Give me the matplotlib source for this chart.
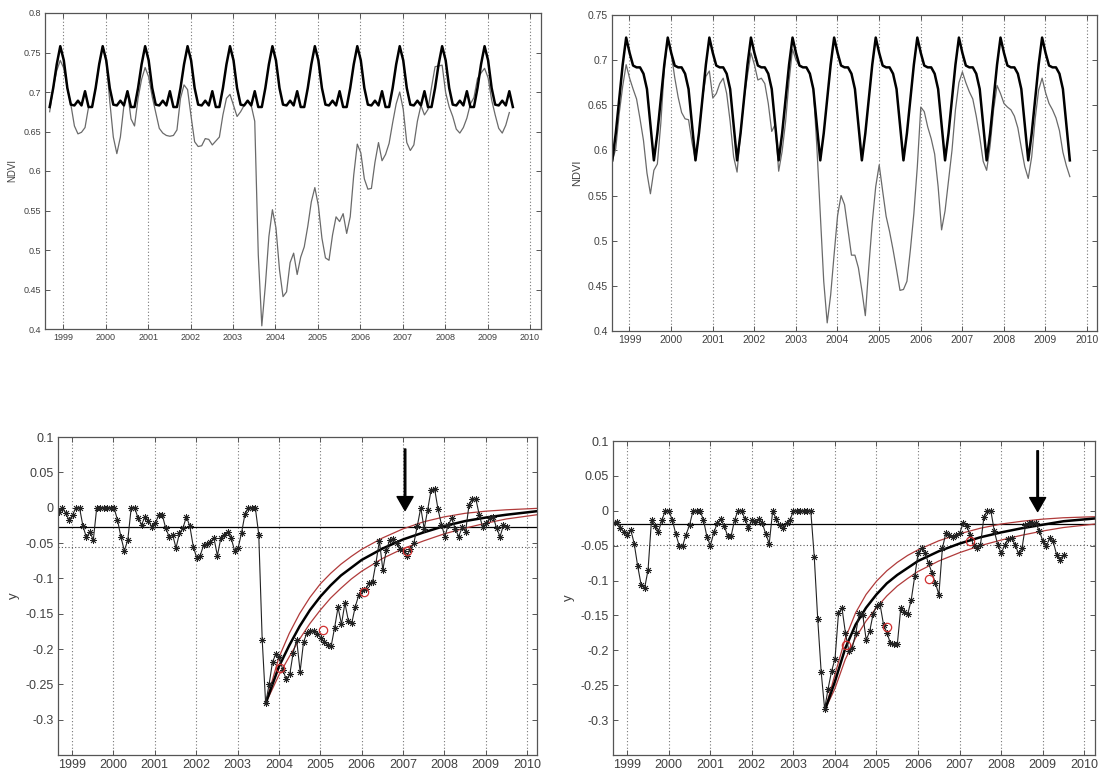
import numpy as np
import matplotlib
matplotlib.use("Agg")
import matplotlib.pyplot as plt

plt.rcParams['font.family'] = ['Liberation Sans', 'DejaVu Sans']

# ---------------- data ----------------
years = list(range(1999, 2011))

# monthly time axes (decimal years)
t_a = 1998.68 + np.arange(131) / 12.0       # left column (top + bottom)
t_ref_a = 1998.68 + np.arange(132) / 12.0   # reference curve runs one month longer
t_b = 1998.587 + np.arange(133) / 12.0      # top right
t_d = 1998.67 + np.arange(131) / 12.0       # bottom right

# reference NDVI seasonal cycle (one year, starting in January), repeated every year
ref_a_cycle = [0.740, 0.705, 0.684, 0.683, 0.689, 0.683, 0.701, 0.681, 0.681, 0.705, 0.735, 0.758]
ref_b_cycle = [0.708, 0.694, 0.692, 0.692, 0.685, 0.668, 0.629, 0.589, 0.619, 0.657, 0.695, 0.725]

ndvi_a = [0.675, 0.705, 0.727, 0.740,
          0.730, 0.705, 0.684, 0.657, 0.647, 0.649, 0.655, 0.681, 0.681, 0.705, 0.735, 0.758,
          0.740, 0.688, 0.643, 0.622, 0.643, 0.683, 0.701, 0.666, 0.657, 0.692, 0.716, 0.731,
          0.719, 0.694, 0.674, 0.654, 0.648, 0.645, 0.644, 0.645, 0.652, 0.692, 0.709, 0.703,
          0.669, 0.637, 0.631, 0.632, 0.641, 0.640, 0.633, 0.638, 0.643, 0.671, 0.692, 0.697,
          0.683, 0.669, 0.675, 0.683, 0.689, 0.683, 0.663, 0.494, 0.404, 0.455, 0.517, 0.551,
          0.528, 0.475, 0.441, 0.447, 0.484, 0.496, 0.469, 0.491, 0.504, 0.530, 0.561, 0.579,
          0.556, 0.515, 0.490, 0.487, 0.519, 0.542, 0.536, 0.546, 0.521, 0.542, 0.595, 0.634,
          0.623, 0.590, 0.577, 0.578, 0.611, 0.636, 0.613, 0.621, 0.635, 0.661, 0.685, 0.700,
          0.678, 0.636, 0.626, 0.633, 0.663, 0.683, 0.671, 0.678, 0.706, 0.732, 0.733, 0.734,
          0.699, 0.681, 0.669, 0.653, 0.648, 0.655, 0.667, 0.685, 0.693, 0.717, 0.724, 0.730,
          0.718, 0.690, 0.671, 0.654, 0.648, 0.658, 0.674]

ndvi_b = [0.588, 0.602, 0.641, 0.671, 0.695,
          0.680, 0.668, 0.657, 0.635, 0.611, 0.575, 0.552, 0.578, 0.585, 0.630, 0.690, 0.725,
          0.708, 0.681, 0.659, 0.642, 0.635, 0.634, 0.609, 0.589, 0.619, 0.657, 0.682, 0.688,
          0.658, 0.663, 0.674, 0.680, 0.663, 0.632, 0.593, 0.576, 0.619, 0.657, 0.683, 0.708,
          0.695, 0.678, 0.680, 0.674, 0.652, 0.621, 0.629, 0.577, 0.599, 0.632, 0.677, 0.712,
          0.700, 0.694, 0.692, 0.692, 0.685, 0.668, 0.605, 0.530, 0.455, 0.409, 0.440, 0.485,
          0.528, 0.550, 0.540, 0.512, 0.484, 0.484, 0.470, 0.445, 0.417, 0.471, 0.520, 0.560,
          0.584, 0.555, 0.527, 0.510, 0.490, 0.468, 0.445, 0.446, 0.455, 0.490, 0.530, 0.582,
          0.648, 0.643, 0.626, 0.613, 0.596, 0.560, 0.512, 0.533, 0.566, 0.600, 0.645, 0.675,
          0.687, 0.675, 0.665, 0.657, 0.638, 0.615, 0.588, 0.578, 0.605, 0.645, 0.672, 0.663,
          0.652, 0.648, 0.645, 0.638, 0.625, 0.603, 0.582, 0.569, 0.593, 0.635, 0.667, 0.680,
          0.664, 0.652, 0.645, 0.636, 0.622, 0.598, 0.583, 0.571]

y_c = [-0.006, 0.0, -0.008, -0.018,
       -0.010, 0.0, 0.0, -0.026, -0.042, -0.034, -0.046, 0.0, 0.0, 0.0, 0.0, 0.0,
       0.0, -0.017, -0.041, -0.061, -0.046, 0.0, 0.0, -0.015, -0.024, -0.013, -0.019, -0.027,
       -0.021, -0.011, -0.010, -0.029, -0.041, -0.038, -0.057, -0.036, -0.029, -0.013, -0.026, -0.055,
       -0.071, -0.068, -0.053, -0.051, -0.048, -0.043, -0.068, -0.043, -0.038, -0.034, -0.043, -0.061,
       -0.057, -0.036, -0.009, 0.0, 0.0, 0.0, -0.038, -0.187, -0.277, -0.250, -0.218, -0.207,
       -0.212, -0.230, -0.243, -0.236, -0.205, -0.187, -0.232, -0.190, -0.177, -0.175, -0.174, -0.179,
       -0.184, -0.190, -0.194, -0.196, -0.170, -0.141, -0.165, -0.135, -0.160, -0.163, -0.140, -0.124,
       -0.117, -0.115, -0.107, -0.105, -0.078, -0.047, -0.088, -0.060, -0.046, -0.044, -0.050, -0.058,
       -0.062, -0.069, -0.058, -0.050, -0.026, 0.000, -0.030, -0.003, 0.025, 0.027, -0.002, -0.024,
       -0.041, -0.024, -0.015, -0.030, -0.041, -0.028, -0.034, 0.004, 0.012, 0.012, -0.011, -0.028,
       -0.022, -0.015, -0.013, -0.029, -0.041, -0.025, -0.027]

y_d = [-0.017, -0.016, -0.024, -0.030,
       -0.035, -0.027, -0.047, -0.079, -0.106, -0.111, -0.085, -0.013, -0.022, -0.030, -0.013, 0.0,
       0.0, -0.013, -0.033, -0.050, -0.050, -0.034, -0.020, 0.0, 0.0, 0.0, -0.013, -0.037,
       -0.050, -0.031, -0.018, -0.012, -0.022, -0.036, -0.036, -0.013, 0.0, 0.0, -0.012, -0.025,
       -0.013, -0.016, -0.012, -0.018, -0.033, -0.047, 0.0, -0.012, -0.020, -0.025, -0.018, -0.013,
       0.0, 0.0, 0.0, 0.0, 0.0, 0.0, -0.066, -0.155, -0.231, -0.284, -0.255, -0.230,
       -0.212, -0.147, -0.139, -0.175, -0.201, -0.196, -0.175, -0.147, -0.149, -0.185, -0.173, -0.148,
       -0.136, -0.134, -0.163, -0.175, -0.190, -0.191, -0.191, -0.139, -0.145, -0.148, -0.128, -0.094,
       -0.061, -0.054, -0.061, -0.075, -0.089, -0.104, -0.120, -0.054, -0.032, -0.035, -0.037, -0.035,
       -0.032, -0.018, -0.022, -0.034, -0.049, -0.053, -0.049, -0.009, 0.0, 0.0, -0.029, -0.049,
       -0.061, -0.049, -0.041, -0.039, -0.049, -0.061, -0.054, -0.021, -0.017, -0.017, -0.018, -0.029,
       -0.043, -0.051, -0.039, -0.044, -0.063, -0.070, -0.063]

# recovery fits
fit_c_t = [2003.68, 2004.0, 2004.25, 2004.5, 2004.75, 2005.0, 2005.25, 2005.5, 2005.75,
           2006.0, 2006.5, 2007.0, 2007.5, 2008.0, 2008.5, 2009.0, 2009.5, 2010.24]
fit_c_mid = [-0.277, -0.225, -0.195, -0.168, -0.145, -0.126, -0.110, -0.096, -0.085,
             -0.074, -0.058, -0.045, -0.035, -0.026, -0.019, -0.014, -0.010, -0.005]
fit_c_hi = [-0.277, -0.212, -0.178, -0.150, -0.127, -0.108, -0.093, -0.080, -0.069,
            -0.059, -0.043, -0.030, -0.020, -0.013, -0.008, -0.005, -0.003, -0.001]
fit_c_lo = [-0.277, -0.237, -0.211, -0.186, -0.164, -0.145, -0.128, -0.114, -0.101,
            -0.090, -0.072, -0.058, -0.047, -0.037, -0.029, -0.022, -0.016, -0.010]

fit_d_t = [2003.77, 2004.0, 2004.25, 2004.5, 2004.75, 2005.0, 2005.25, 2005.5, 2005.75,
           2006.0, 2006.5, 2007.0, 2007.5, 2008.0, 2008.5, 2009.0, 2009.5, 2010.26]
fit_d_mid = [-0.284, -0.245, -0.197, -0.163, -0.139, -0.120, -0.104, -0.092, -0.082,
             -0.072, -0.058, -0.047, -0.038, -0.031, -0.025, -0.020, -0.015, -0.011]
fit_d_hi = [-0.284, -0.235, -0.183, -0.146, -0.120, -0.101, -0.086, -0.074, -0.064,
            -0.056, -0.043, -0.033, -0.025, -0.019, -0.015, -0.012, -0.010, -0.0085]
fit_d_lo = [-0.284, -0.255, -0.213, -0.182, -0.158, -0.139, -0.122, -0.108, -0.097,
            -0.087, -0.072, -0.060, -0.050, -0.042, -0.035, -0.029, -0.024, -0.019]

circ_c_t = [2004.03, 2005.06, 2006.06, 2007.10]
circ_c_y = [-0.227, -0.173, -0.119, -0.061]
circ_d_t = [2004.26, 2005.26, 2006.26, 2007.26]
circ_d_y = [-0.192, -0.167, -0.098, -0.044]

level_c = -0.027
thresh_c = -0.055
level_d = -0.019
thresh_d = -0.049

arrow_c = (2007.05, 0.083, -0.004)   # x, tail y, tip y
arrow_d = (2008.88, 0.086, -0.001)

ref_a = ref_a_cycle[8:] + ref_a_cycle * 10 + ref_a_cycle[:8]
ref_b = ref_b_cycle[7:] + ref_b_cycle * 10 + ref_b_cycle[:8]

# ---------------- figure ----------------
W, H = 1101, 775
fig = plt.figure(figsize=(W / 100, H / 100), dpi=100)


def box(l, t, r, b):
    return [l / W, 1 - b / H, (r - l) / W, (b - t) / H]


txt = '#404040'


def style(ax, xlim, ylim, yticks, ylabels, fs, ylabel):
    ax.set_xlim(*xlim)
    ax.set_ylim(*ylim)
    ax.set_xticks(years)
    ax.set_xticklabels([str(y) for y in years], fontsize=fs, color=txt)
    ax.set_yticks(yticks)
    ax.set_yticklabels(ylabels, fontsize=fs, color=txt)
    ax.tick_params(direction='in', length=3.5, width=0.7, color='#555555',
                   top=True, right=True, pad=3)
    for s in ax.spines.values():
        s.set_color('#555555')
        s.set_linewidth(0.9)
    ax.grid(axis='x', linestyle=(0, (1, 2)), color='#777777', linewidth=0.8)
    ax.set_ylabel(ylabel, fontsize=fs + 0.5, color=txt, labelpad=4)


# top left
ax = fig.add_axes(box(45, 13, 541, 329))
ax.plot(t_a, ndvi_a, color='#6a6a6a', lw=0.9)
ax.plot(t_ref_a, ref_a, color='black', lw=1.8)
yt = [0.4, 0.45, 0.5, 0.55, 0.6, 0.65, 0.7, 0.75, 0.8]
style(ax, (1998.57, 2010.26), (0.4, 0.8), yt,
      ['0.4', '0.45', '0.5', '0.55', '0.6', '0.65', '0.7', '0.75', '0.8'], 6.5, 'NDVI')

# top right
ax = fig.add_axes(box(612, 15, 1097, 331))
ax.plot(t_b, ndvi_b, color='#6a6a6a', lw=0.9)
ax.plot(t_b, ref_b, color='black', lw=1.8)
yt = [0.4, 0.45, 0.5, 0.55, 0.6, 0.65, 0.7, 0.75]
style(ax, (1998.58, 2010.24), (0.4, 0.75), yt,
      ['0.4', '0.45', '0.5', '0.55', '0.6', '0.65', '0.7', '0.75'], 7.5, 'NDVI')

yt_low = [-0.3, -0.25, -0.2, -0.15, -0.1, -0.05, 0, 0.05, 0.1]
yl_low = ['-0.3', '-0.25', '-0.2', '-0.15', '-0.1', '-0.05', '0', '0.05', '0.1']
star = (8, 2, 0)


def bottom(ax, t, y, level, thresh, ft, fmid, fhi, flo, ct, cy, arr, xlim):
    ax.axhline(level, color='black', lw=0.9)
    ax.axhline(thresh, color='#555555', lw=0.8, linestyle=(0, (1, 2)))
    ax.plot(ft, fhi, color='#b03a3a', lw=0.9)
    ax.plot(ft, flo, color='#b03a3a', lw=0.9)
    ax.plot(ft, fmid, color='black', lw=1.8)
    ax.plot(t, y, color='#222222', lw=0.8, marker=star, ms=5, mew=0.6)
    ax.plot(ct, cy, linestyle='none', marker='o', ms=6, mfc='none',
            mec='#d03030', mew=0.9)
    ax.annotate('', xy=(arr[0], arr[2]), xytext=(arr[0], arr[1]),
                arrowprops=dict(facecolor='black', edgecolor='black', width=1.1,
                                headwidth=11.5, headlength=10, shrink=0))
    style(ax, xlim, (-0.35, 0.1), yt_low, yl_low, 9, 'y')


ax = fig.add_axes(box(58, 437, 537, 755))
bottom(ax, t_a, y_c, level_c, thresh_c, fit_c_t, fit_c_mid, fit_c_hi, fit_c_lo,
       circ_c_t, circ_c_y, arrow_c, (1998.66, 2010.24))

ax = fig.add_axes(box(613, 441, 1095, 755))
bottom(ax, t_d, y_d, level_d, thresh_d, fit_d_t, fit_d_mid, fit_d_hi, fit_d_lo,
       circ_d_t, circ_d_y, arrow_d, (1998.66, 2010.26))

fig.savefig('out.png', dpi=100)
